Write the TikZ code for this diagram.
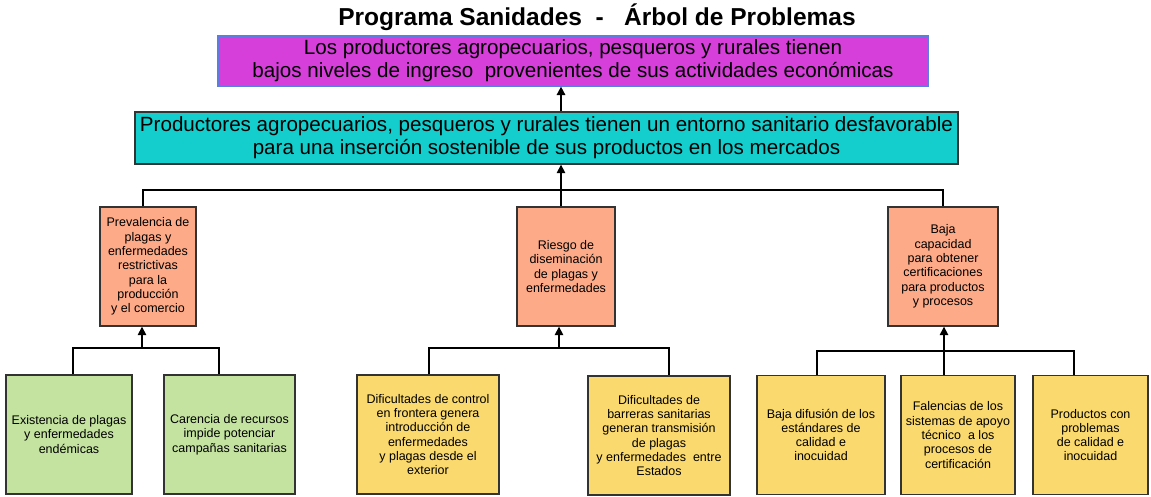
\documentclass[tikz,border=0pt]{standalone}
\usepackage{fontspec}
\setmainfont{Liberation Sans}
\usetikzlibrary{arrows.meta}
\definecolor{magbox}{HTML}{D63FDA}
\definecolor{magline}{HTML}{5B7FE0}
\definecolor{cyanbox}{HTML}{14CECE}
\definecolor{orgbox}{HTML}{FDAA88}
\definecolor{grnbox}{HTML}{C5E3A0}
\definecolor{ylwbox}{HTML}{FAD96E}
\begin{document}
\begin{tikzpicture}[x=1pt,y=-1pt,
  box/.style={draw=black!80, line width=1.4pt, inner sep=0pt, align=center,
    font=\fontsize{12.5}{14.3}\selectfont},
  bigbox/.style={box, font=\fontsize{20.6}{22.8}\selectfont},
  prob/.style={box, fill=orgbox, minimum height=119pt},
  cause/.style={box, minimum height=119pt},
  link/.style={line width=1.6pt, black},
  arr/.style={link, -{Triangle[width=8.5pt,length=8.5pt]}}]
\useasboundingbox (0,0) rectangle (1151,497);

\node[font=\fontsize{24.5}{28}\selectfont\bfseries] (title) at (597,17) {Programa Sanidades\ \ -\ \ \ Árbol de Problemas};

\node[bigbox, draw=magline, line width=1.2pt, fill=magbox, minimum width=710pt, minimum height=50pt] (mag) at (573,61)
 {Los productores agropecuarios, pesqueros y rurales tienen\\bajos niveles de ingreso\ \ provenientes de sus actividades económicas};
\node[bigbox, fill=cyanbox, minimum width=823pt, minimum height=52pt] (cyan) at (546.5,138)
 {Productores agropecuarios, pesqueros y rurales tienen un entorno sanitario desfavorable\\para una inserción sostenible de sus productos en los mercados};

\node[prob, minimum width=96pt] (p1) at (148,266.5)
 {Prevalencia de\\plagas y\\enfermedades\\restrictivas\\para la\\producción\\y el comercio};
\node[prob, minimum width=98pt] (p2) at (566,266.5)
 {Riesgo de\\diseminación\\de plagas y\\enfermedades};
\node[prob, minimum width=110pt] (p3) at (943,266.5)
 {Baja\\capacidad\\para obtener\\certificaciones\\para productos\\y procesos};

\node[cause, fill=grnbox, minimum width=126pt] (a) at (69,434.5)
 {Existencia de plagas\\y enfermedades\\endémicas};
\node[cause, fill=grnbox, minimum width=131pt] (b) at (229.5,434.5)
 {Carencia de recursos\\impide potenciar\\campañas sanitarias};
\node[cause, fill=ylwbox, minimum width=142pt] (c) at (428,434.5)
 {Dificultades de control\\en frontera genera\\introducción de\\enfermedades\\y plagas desde el\\exterior};
\node[cause, fill=ylwbox, minimum width=142pt] (d) at (659,435.5)
 {Dificultades de\\barreras sanitarias\\generan transmisión\\de plagas\\y enfermedades\ \ entre\\Estados};
\node[cause, fill=ylwbox, minimum width=128pt] (e) at (821,435)
 {Baja difusión de los\\estándares de\\calidad e\\inocuidad};
\node[cause, fill=ylwbox, minimum width=114pt] (f) at (958,435)
 {Falencias de los\\sistemas de apoyo\\técnico\ \ a los\\procesos de\\certificación};
\node[cause, fill=ylwbox, minimum width=115pt] (g) at (1090.5,435)
 {Productos con\\problemas\\de calidad e\\inocuidad};

% top arrows
\coordinate (spine) at (561,190);
\draw[arr] (spine |- cyan.north) -- (spine |- mag.south);
\draw[arr] (spine) -- (spine |- cyan.south);
% main bus
\coordinate (b1) at (143,190);
\coordinate (b3) at (943,190);
\draw[link] (b1 |- p1.north) -- (b1) -- (b3) -- (b3 |- p3.north);
\draw[link] (spine) -- (spine |- p2.north);

% group 1
\coordinate (k1) at (142,348);
\coordinate (ka) at (73,348);
\coordinate (kb) at (219,348);
\draw[arr] (k1) -- (k1 |- p1.south);
\draw[link] (ka |- a.north) -- (ka) -- (kb) -- (kb |- b.north);

% group 2
\coordinate (k2) at (559,348);
\coordinate (kc) at (429,348);
\coordinate (kd) at (669,348);
\draw[arr] (k2) -- (k2 |- p2.south);
\draw[link] (kc |- c.north) -- (kc) -- (kd) -- (kd |- d.north);

% group 3
\coordinate (k3) at (944,351);
\coordinate (ke) at (817,351);
\coordinate (kg) at (1074,351);
\draw[arr] (k3) -- (k3 |- p3.south);
\draw[link] (ke |- e.north) -- (ke) -- (kg) -- (kg |- g.north);
\draw[link] (k3) -- (k3 |- f.north);
\end{tikzpicture}
\end{document}
